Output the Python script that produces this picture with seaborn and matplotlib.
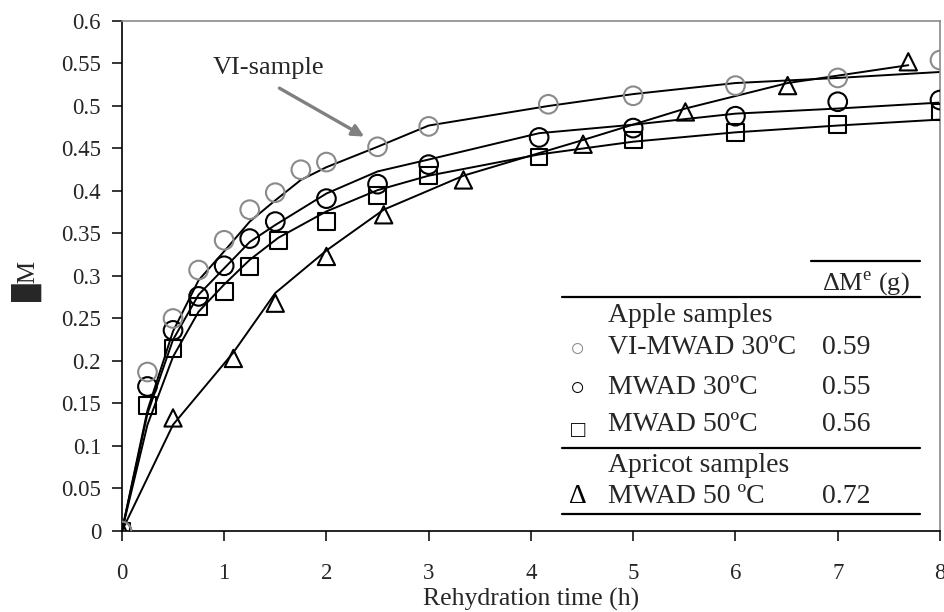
import numpy as np
import pandas as pd
import seaborn as sns
import matplotlib.pyplot as plt

# rehydration time (h) and moisture gain
t_vi = [0, 0.25, 0.5, 0.75, 1.0, 1.25, 1.5, 1.75, 2.0, 2.5, 3.0, 4.17, 5.0, 6.0, 7.0, 8.0]
m_vi = [0, 0.187, 0.250, 0.307, 0.342, 0.378, 0.398, 0.425, 0.434, 0.452, 0.476, 0.502, 0.512, 0.524, 0.533, 0.554]
fit_vi = [0, 0.142, 0.235, 0.295, 0.329, 0.364, 0.389, 0.413, 0.428, 0.452, 0.477, 0.500, 0.514, 0.527, 0.533, 0.540]

t_m30 = [0, 0.25, 0.5, 0.75, 1.0, 1.25, 1.5, 2.0, 2.5, 3.0, 4.08, 5.0, 6.0, 7.0, 8.0]
m_m30 = [0, 0.170, 0.236, 0.276, 0.312, 0.344, 0.364, 0.391, 0.408, 0.431, 0.463, 0.474, 0.488, 0.505, 0.507]
fit_m30 = [0, 0.138, 0.225, 0.278, 0.309, 0.340, 0.360, 0.397, 0.423, 0.437, 0.468, 0.478, 0.491, 0.497, 0.504]

t_m50 = [0, 0.25, 0.5, 0.75, 1.0, 1.25, 1.53, 2.0, 2.5, 3.0, 4.08, 5.0, 6.0, 7.0, 8.0]
m_m50 = [0, 0.148, 0.215, 0.264, 0.282, 0.311, 0.342, 0.364, 0.395, 0.418, 0.440, 0.460, 0.469, 0.478, 0.493]
fit_m50 = [0, 0.125, 0.205, 0.258, 0.290, 0.319, 0.345, 0.376, 0.401, 0.418, 0.443, 0.458, 0.469, 0.477, 0.484]

t_apr = [0, 0.5, 1.09, 1.5, 2.0, 2.56, 3.34, 4.51, 5.51, 6.51, 7.69]
m_apr = [0, 0.133, 0.203, 0.268, 0.323, 0.372, 0.413, 0.455, 0.493, 0.524, 0.552]
fit_apr = [0, 0.125, 0.210, 0.280, 0.330, 0.378, 0.418, 0.460, 0.497, 0.527, 0.548]

# legend table
group_labels = ["Apple samples", "Apricot samples"]
row_symbols = ["○", "○", "□", "Δ"]
row_names = ["VI-MWAD 30ºC", "MWAD 30ºC", "MWAD 50ºC", "MWAD 50 ºC"]
row_values = ["0.59", "0.55", "0.56", "0.72"]

x_ticks = list(range(0, 9))
y_ticks = [0, 0.05, 0.1, 0.15, 0.2, 0.25, 0.3, 0.35, 0.4, 0.45, 0.5, 0.55, 0.6]
y_tick_labels = ["0", "0.05", "0.1", "0.15", "0.2", "0.25", "0.3", "0.35", "0.4", "0.45", "0.5", "0.55", "0.6"]

sns.set_style("white")
plt.rcParams["font.family"] = ["Liberation Serif", "DejaVu Sans"]
plt.rcParams["mathtext.fontset"] = "custom"
plt.rcParams["mathtext.rm"] = "Liberation Serif"

GRAY = "#8a8a8a"

fig = plt.figure(figsize=(9.45, 6.12), dpi=100)
ax = fig.add_axes([0.129, 0.1324, 0.8657, 0.8333])

# fitted curves
for t, f in [(t_vi, fit_vi), (t_m30, fit_m30), (t_m50, fit_m50), (t_apr, fit_apr)]:
    sns.lineplot(x=t, y=f, color="black", linewidth=1.4, estimator=None, ax=ax, zorder=2)

# experimental points
sns.scatterplot(x=t_m50, y=m_m50, marker="s", s=145, facecolor="none",
                edgecolor="black", linewidth=1.5, ax=ax, zorder=3)
sns.scatterplot(x=t_apr, y=m_apr, marker="^", s=155, facecolor="none",
                edgecolor="black", linewidth=1.5, ax=ax, zorder=3)
sns.scatterplot(x=t_m30, y=m_m30, marker="o", s=180, facecolor="none",
                edgecolor="black", linewidth=1.5, ax=ax, zorder=3)
sns.scatterplot(x=t_vi, y=m_vi, marker="o", s=180, facecolor="none",
                edgecolor=GRAY, linewidth=1.5, ax=ax, zorder=4)

ax.set_xlim(0, 8)
ax.set_ylim(0, 0.6)
ax.set_xticks(x_ticks)
ax.set_yticks(y_ticks)
ax.set_yticklabels(y_tick_labels)
ax.tick_params(axis="both", direction="out", length=7, width=1.1, color="black",
               labelsize=16.5, bottom=True, left=True)
ax.tick_params(axis="x", pad=16)
ax.tick_params(axis="y", pad=8)

for side in ["left", "bottom"]:
    ax.spines[side].set_color("black")
    ax.spines[side].set_linewidth(1.2)
for side in ["top", "right"]:
    ax.spines[side].set_color(GRAY)
    ax.spines[side].set_linewidth(1.2)

ax.set_xlabel("Rehydration time (h)", fontsize=18.5)
ax.xaxis.set_label_coords(0.5, -0.112)
ax.set_ylabel("█M", fontsize=18)
ax.yaxis.set_label_coords(-0.098, 0.49)

# annotation
ax.text(1.43, 0.545, "VI-sample", fontsize=19, ha="center", va="center")
ax.annotate("", xy=(2.37, 0.464), xytext=(1.54, 0.521),
            arrowprops=dict(arrowstyle="-|>,head_length=0.7,head_width=0.35",
                            color="gray", lw=2.4, shrinkA=0, shrinkB=0))

# legend drawn as a small table
tr = ax.transAxes
ax.plot([0.842, 0.9756], [0.5294, 0.5294], color="black", lw=1.6, transform=tr)
ax.text(0.909, 0.486, r"ΔM$^{\mathrm{e}}$ (g)", fontsize=19, ha="center", va="center", transform=tr)
for yy in [0.4588, 0.1633, 0.0333]:
    ax.plot([0.538, 0.9756], [yy, yy], color="black", lw=1.6, transform=tr)

ax.text(0.594, 0.4216, group_labels[0], fontsize=20, va="center", transform=tr)
ax.text(0.594, 0.129, group_labels[1], fontsize=20, va="center", transform=tr)

row_y = [0.359, 0.282, 0.208, 0.0667]
sym_colors = [GRAY, "black", "black", "black"]
sym_sizes = [18, 18, 17, 20]
sym_dy = [-0.004, -0.004, -0.012, 0]
for i in range(4):
    ax.text(0.557, row_y[i] + sym_dy[i], row_symbols[i], fontsize=sym_sizes[i], color=sym_colors[i],
            ha="center", va="center", transform=tr)
    ax.text(0.594, row_y[i], row_names[i], fontsize=20, va="center", transform=tr)
    ax.text(0.856, row_y[i], row_values[i], fontsize=20, va="center", transform=tr)

fig.savefig("out.png", dpi=100)
